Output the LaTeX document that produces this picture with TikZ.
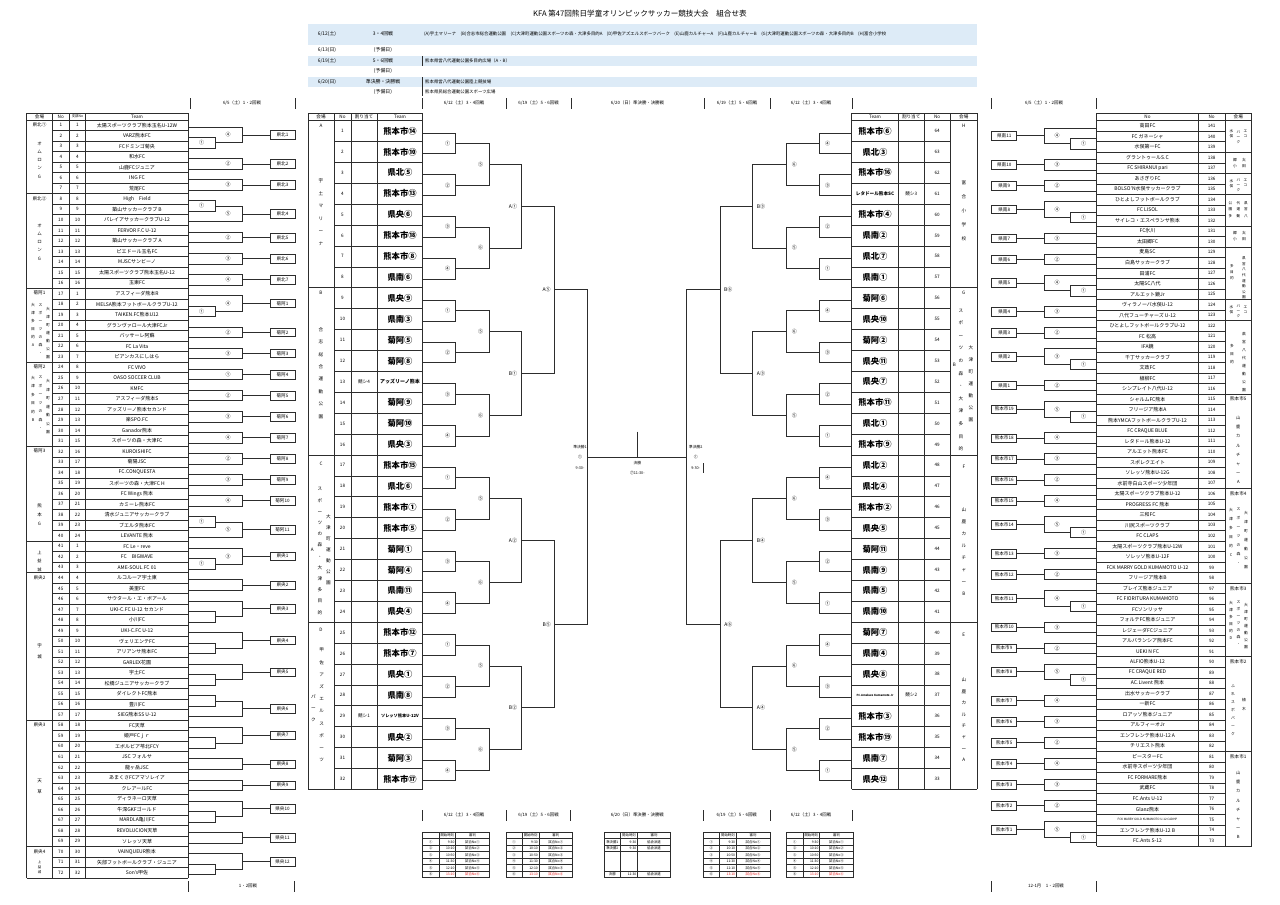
\documentclass[tikz,border=0pt]{standalone}
\usepackage{fontspec}
\setmainfont{Noto Sans CJK JP}
\definecolor{hdr}{RGB}{221,235,247}
\definecolor{ln}{RGB}{45,45,45}
\definecolor{rd}{RGB}{230,30,30}
\newcommand\LTo{119.8}
\newcommand\LHe{10.53}
\newcommand\RTo{120.7}
\newcommand\RHe{10.51}
\newcommand\MTo{120.5}
\newcommand\MHe{20.9}
% ---------- left 1-2 round brackets
\newcommand\Lpair[4]{%
  \pgfmathsetmacro\ya{\LTo+(#1-0.5)*\LHe+2}%
  \pgfmathsetmacro\yb{\LTo+(#2-0.5)*\LHe+2}%
  \pgfmathsetmacro\ym{(\ya+\yb)/2}%
  \node[wbox] (w) at (282.5,\ym) {#4};%
  \draw[br] (188.3,\ya) -- (242,\ya) -- (242,\yb) -- (188.3,\yb);%
  \draw[br] (242,\ym) -- (w.west);%
  \node[lab] at (228,\ym) {#3};%
}
\newcommand\LtriA[6]{%
  \pgfmathsetmacro\ya{\LTo+(#1-0.5)*\LHe+2}%
  \pgfmathsetmacro\yb{\LTo+(#2-0.5)*\LHe+2}%
  \pgfmathsetmacro\yc{\LTo+(#3-0.5)*\LHe+2}%
  \pgfmathsetmacro\yi{(\yb+\yc)/2}%
  \pgfmathsetmacro\ym{(\ya+\yi)/2}%
  \draw[br] (188.3,\yb) -- (215,\yb) -- (215,\yc) -- (188.3,\yc);%
  \node[lab] at (201.5,\yi) {#4};%
  \draw[br] (188.3,\ya) -- (242,\ya) -- (242,\yi) -- (215,\yi);%
  \node[wbox] (w) at (282.5,\ym) {#6};%
  \draw[br] (242,\ym) -- (w.west);%
  \node[lab] at (228,\ym) {#5};%
}
\newcommand\LtriB[6]{%
  \pgfmathsetmacro\ya{\LTo+(#1-0.5)*\LHe+2}%
  \pgfmathsetmacro\yb{\LTo+(#2-0.5)*\LHe+2}%
  \pgfmathsetmacro\yc{\LTo+(#3-0.5)*\LHe+2}%
  \pgfmathsetmacro\yi{(\ya+\yb)/2}%
  \pgfmathsetmacro\ym{(\yi+\yc)/2}%
  \draw[br] (188.3,\ya) -- (215,\ya) -- (215,\yb) -- (188.3,\yb);%
  \node[lab] at (201.5,\yi) {#4};%
  \draw[br] (215,\yi) -- (242,\yi) -- (242,\yc) -- (188.3,\yc);%
  \node[wbox] (w) at (282.5,\ym) {#6};%
  \draw[br] (242,\ym) -- (w.west);%
  \node[lab] at (228,\ym) {#5};%
}
% ---------- right 1-2 round brackets (by team No)
\newcommand\Rpair[4]{%
  \pgfmathsetmacro\ya{\RTo+(141-#1+0.5)*\RHe+2}%
  \pgfmathsetmacro\yb{\RTo+(141-#2+0.5)*\RHe+2}%
  \pgfmathsetmacro\ym{(\ya+\yb)/2}%
  \node[wbox] (w) at (1004.2,\ym) {#4};%
  \draw[br] (1096.7,\ya) -- (1044,\ya) -- (1044,\yb) -- (1096.7,\yb);%
  \draw[br] (1044,\ym) -- (w.east);%
  \node[lab] at (1057,\ym) {#3};%
}
\newcommand\RtriA[6]{%
  \pgfmathsetmacro\ya{\RTo+(141-#1+0.5)*\RHe+2}%
  \pgfmathsetmacro\yb{\RTo+(141-#2+0.5)*\RHe+2}%
  \pgfmathsetmacro\yc{\RTo+(141-#3+0.5)*\RHe+2}%
  \pgfmathsetmacro\yi{(\yb+\yc)/2}%
  \pgfmathsetmacro\ym{(\ya+\yi)/2}%
  \draw[br] (1096.7,\yb) -- (1070,\yb) -- (1070,\yc) -- (1096.7,\yc);%
  \node[lab] at (1083.5,\yi) {#4};%
  \draw[br] (1096.7,\ya) -- (1044,\ya) -- (1044,\yi) -- (1070,\yi);%
  \node[wbox] (w) at (1004.2,\ym) {#6};%
  \draw[br] (1044,\ym) -- (w.east);%
  \node[lab] at (1057,\ym) {#5};%
}
% ---------- main bracket step
\newcommand\MB[6]{%
  \pgfmathsetmacro\ya{\MTo+(#1-0.5)*\MHe+2}%
  \pgfmathsetmacro\yb{\MTo+(#2-0.5)*\MHe+2}%
  \pgfmathsetmacro\ym{(\ya+\yb)/2}%
  \draw[br] (#3,\ya) -- (#4,\ya) -- (#4,\yb) -- (#3,\yb);%
  \node[lab] at (#5,\ym) {#6};%
}
\newcommand\vtx[5]{\node[vt,font=\fontsize{#4}{#5}\selectfont] at (#1,#2) {#3};}
% ---------- bottom schedule table
\newcommand\btab[1]{%
  \foreach \k in {0,...,7} \draw[tl] (#1,{832+\k*6.5}) -- ({#1+66.6},{832+\k*6.5});
  \foreach \dx in {0,16.3,33,66.6} \draw[tl] ({#1+\dx},832) -- ({#1+\dx},877.5);
  \node[tb] at ({#1+24.6},835.3) {開始時刻};
  \node[tb] at ({#1+49.8},835.3) {審判};
  \foreach \L/\T [count=\k] in {①/9:30,②/10:10,③/10:50,④/11:30,⑤/12:10}{
    \node[tb] at ({#1+8.1},{835.3+\k*6.5}) {\L};
    \node[tb,anchor=east] at ({#1+32},{835.3+\k*6.5}) {\T};
    \node[tb] at ({#1+49.8},{835.3+\k*6.5}) {試合No\L};
  }
  \node[tb] at ({#1+8.1},874.3) {⑥};
  \node[tb,anchor=east,text=rd] at ({#1+32},874.3) {13:10};
  \node[tb,text=rd] at ({#1+49.8},874.3) {試合No⑥};
}
\begin{document}
\begin{tikzpicture}[x=1pt,y=-1pt,
  tl/.style={draw=ln,line width=0.45pt},
  br/.style={draw=ln,line width=0.8pt},
  t/.style={inner sep=0pt,font=\fontsize{4.6}{4.6}\selectfont},
  tn/.style={inner sep=0pt,font=\fontsize{5}{5}\selectfont},
  tb/.style={inner sep=0pt,font=\fontsize{3.4}{3.4}\selectfont},
  ts/.style={inner sep=0pt,font=\fontsize{3.8}{3.8}\selectfont},
  lab/.style={inner sep=0pt,font=\fontsize{5}{5}\selectfont},
  wbox/.style={draw=ln,line width=0.5pt,minimum width=25pt,minimum height=8.5pt,inner sep=0pt,font=\fontsize{4.6}{4.6}\selectfont},
  tm/.style={inner sep=0pt,font=\bfseries\fontsize{8.3}{8.3}\selectfont},
  vt/.style={inner sep=0pt,align=center},
  hd/.style={inner sep=0pt,font=\fontsize{4.9}{4.9}\selectfont},
  hv/.style={inner sep=0pt,font=\fontsize{4.4}{4.4}\selectfont},
  bar/.style={draw=ln,line width=0.6pt},
]
\useasboundingbox (0,0) rectangle (1280,905);
\fill[white] (0,0) rectangle (1280,905);

% ================= title and header =================
\node[inner sep=0pt,font=\fontsize{7.6}{7.6}\selectfont] (title) at (640,14) {KFA 第47回熊日学童オリンピックサッカー競技大会　組合せ表};
\fill[hdr] (308,23.5) rectangle (977,44.5);
\fill[hdr] (308,55.5) rectangle (977,66);
\fill[hdr] (308,76.5) rectangle (977,87);
\node[hd] at (327,34) {6/12(土)};
\node[hd] at (383,34) {3・4回戦};
\node[hv,anchor=west] at (424,34) {(A)宇土マリーナ　(B)合志市総合運動公園　(C)大津町運動公園スポーツの森・大津多目的A　(D)甲佐アズエルスポーツパーク　(E)山鹿カルチャーA　(F)山鹿カルチャーB　(G)大津町運動公園スポーツの森・大津多目的B　(H)富合小学校};
\node[hd] at (327,49.8) {6/13(日)};
\node[hd] at (383,49.8) {(予備日)};
\node[hd] at (327,60.8) {6/19(土)};
\node[hd] at (383,60.8) {5・6回戦};
\node[hv,anchor=west] at (425,60.8) {熊本県営八代運動公園多目的広場（A・B）};
\node[hd] at (383,71.2) {(予備日)};
\node[hd] at (327,81.8) {6/20(日)};
\node[hd] at (383,81.8) {準決勝・決勝戦};
\node[hv,anchor=west] at (425,81.8) {熊本県営八代運動公園陸上競技場};
\node[hd] at (383,91.8) {(予備日)};
\node[hv,anchor=west] at (425,91.8) {熊本県民総合運動公園スポーツ広場};
\draw[tl] (422.7,56) -- (422.7,65.5);
\draw[tl] (422.7,77) -- (422.7,96);

% round headers (top)
\foreach \x in {190,295,422.7,506,571,704,770,852,991.7,1096.7} \draw[bar] (\x,98) -- (\x,108.5);
\node[hv] at (242,103) {6/5（土）1・2回戦};
\node[hv] at (464,103) {6/12（土）3・4回戦};
\node[hv] at (538.5,103) {6/19（土）5・6回戦};
\node[hv] at (637.5,103) {6/20（日）準決勝・決勝戦};
\node[hv] at (737,103) {6/19（土）5・6回戦};
\node[hv] at (811,103) {6/12（土）3・4回戦};
\node[hv] at (1044,103) {6/5（土）1・2回戦};
% footers
\foreach \x in {188.3,294.3,991.7,1096.7} \draw[bar] (\x,881) -- (\x,891.5);
\node[hv] at (248,886) {1・2回戦};
\node[hv] at (1046,886) {12-1月　1・2回戦};

% ================= left 1-2 round table =================
\pgfmathsetmacro\LB{\LTo+72*\LHe}
\draw[tl] (26.7,113) -- (188.3,113);
\foreach \i in {0,...,72} \draw[tl] (52.3,{\LTo+\i*\LHe}) -- (188.3,{\LTo+\i*\LHe});
\foreach \g in {1,8,17,24,32,41,44,58,70,73} \draw[tl] (26.7,{\LTo+(\g-1)*\LHe}) -- (52.3,{\LTo+(\g-1)*\LHe});
\foreach \x in {26.7,52.3,69.3,85.7,188.3} \draw[tl] (\x,113) -- (\x,\LB);
\node[t] at (39.5,116.5) {会場};
\node[t] at (60.8,116.5) {No};
\node[inner sep=0pt,font=\fontsize{3.4}{3.4}\selectfont] at (77.5,116.5) {支部No};
\node[t] at (137,116.5) {Team};
\foreach \n [count=\i] in {太陽スポーツクラブ熊本玉名U-12W,VARZ熊本FC,FCドミンゴ菊央,和水FC,山鹿FCジュニア,ING FC,荒尾FC,High　Field,築山サッカークラブ B,パレイアサッカークラブU-12,FERVOR F.C U-12,築山サッカークラブ A,ピエドール玉名FC,MJSCサンビーノ,太陽スポーツクラブ熊本玉名U-12,玉東FC,アスフィーダ熊本R,MELSA熊本フットボールクラブU-12,TAIKEN.FC熊本U12,グランヴァロール大津FCJr,バッサーレ阿蘇,FC La Vita,ピアンカスにしはら,FC VIVO,OASO SOCCER CLUB,KMFC,アスフィーダ熊本S,アッズリーノ熊本セカンド,楽SPO.FC,Ganador熊本,スポーツの森・大津FC,KUROISHIFC,菊陽JSC,FC.CONQUESTA,スポーツの森・大津FC H,FC Wings 熊本,カミーレ熊本FC,清水ジュニアサッカークラブ,ブエルタ熊本FC,LEVANTE 熊本,FC Le・reve,FC　BIGWAVE,AME-SOUL.FC 01,ルコルーア宇土東,美里FC,サウタール・エ・ボアール,UKI-C.FC U-12 セカンド,小川FC,UKI-C.FC U-12,ヴェリエンテFC,アリアンサ熊本FC,GARLEX花園,宇土FC,松橋ジュニアサッカークラブ,ダイレクトFC熊本,豊川FC,SIEG熊本SS U-12,FC天草,姫戸FCｊｒ,エボルビア苓北FCY,JSC フォルサ,龍ヶ岳JSC,あまくさFCアマソレイア,クレアールFC,ディラネーロ天草,牛深GKFゴールド,MARDLA亀川FC,REVOLUCION天草,ソレッソ天草,VAINQUEUR熊本,矢部フットボールクラブ・ジュニア,Son's甲佐} {
  \pgfmathsetmacro\yy{\LTo+(\i-0.5)*\LHe}
  \pgfmathtruncatemacro\sn{\i<=16 ? \i : (\i<=40 ? \i-16 : \i-40)}
  \node[t] at (60.8,\yy) {\i};
  \node[t] at (77.5,\yy) {\sn};
  \node[tn] (lt\i) at (137,\yy) {\n};
}
% venue column texts (left)
\node[t] at (39.5,125.1) {県北①};
\vtx{39.5}{160}{オ\\ム\\ロ\\ン\\G}{4.5}{8.2}
\node[t] at (39.5,198.8) {県北②};
\vtx{39.5}{242}{オ\\ム\\ロ\\ン\\G}{4.5}{8.2}
\node[t] at (39.5,293.1) {菊阿1};
\vtx{48}{333}{大\\津\\町\\運\\動\\公\\園}{3.8}{8}
\vtx{40.5}{329}{ス\\ポ\\ー\\ツ\\の\\森\\・}{3.8}{8}
\vtx{33}{325}{大\\津\\多\\目\\的\\A}{3.8}{8}
\node[t] at (39.5,366.8) {菊阿2};
\vtx{48}{407}{大\\津\\町\\運\\動\\公\\園}{3.8}{8.5}
\vtx{40.5}{403}{ス\\ポ\\ー\\ツ\\の\\森\\・}{3.8}{8.5}
\vtx{33}{399}{大\\津\\多\\目\\的\\B}{3.8}{8.5}
\node[t] at (39.5,451.1) {菊阿3};
\vtx{39.5}{515}{熊\\本\\G}{4.5}{9}
\vtx{39.5}{561}{上\\益\\城}{4.2}{8.5}
\node[t] at (39.5,577.8) {県央2};
\vtx{39.5}{651}{宇\\城}{4.5}{11}
\node[t] at (39.5,725.2) {県央3};
\vtx{39.5}{786}{天\\草}{4.5}{11}
\node[t] at (39.5,851.6) {県央4};
\vtx{39.5}{867}{上\\益\\城}{3.4}{5.2}

% left 1-2 brackets
\LtriA{1}{2}{3}{①}{④}{県北1}
\Lpair{4}{5}{②}{県北2}
\Lpair{6}{7}{③}{県北3}
\LtriB{8}{9}{10}{①}{⑤}{県北4}
\Lpair{11}{12}{②}{県北5}
\Lpair{13}{14}{③}{県北6}
\Lpair{15}{16}{④}{県北7}
\LtriA{17}{18}{19}{①}{④}{菊阿1}
\Lpair{20}{21}{②}{菊阿2}
\Lpair{22}{23}{③}{菊阿3}
\Lpair{24}{25}{①}{菊阿4}
\Lpair{26}{27}{②}{菊阿5}
\Lpair{28}{29}{③}{菊阿6}
\Lpair{30}{31}{④}{菊阿7}
\Lpair{32}{33}{②}{菊阿8}
\Lpair{34}{35}{③}{菊阿9}
\Lpair{36}{37}{④}{菊阿10}
\LtriB{38}{39}{40}{①}{⑤}{菊阿11}
\LtriA{41}{42}{43}{①}{③}{県央1}
\Lpair{44}{45}{}{県央2}
\LtriA{46}{47}{48}{}{}{県央3}
\LtriA{49}{50}{51}{}{}{県央4}
\LtriA{52}{53}{54}{}{}{県央5}
\LtriB{55}{56}{57}{}{}{県央6}
\LtriA{58}{59}{60}{}{}{県央7}
\Lpair{61}{62}{}{県央8}
\Lpair{63}{64}{}{県央9}
\LtriA{65}{66}{67}{}{}{県央10}
\Lpair{68}{69}{}{県央11}
\LtriA{70}{71}{72}{}{}{県央12}

% ================= right 1-2 round table =================
\pgfmathsetmacro\RB{\RTo+69*\RHe}
\draw[tl] (1096.7,113) -- (1251.7,113);
\foreach \i in {0,...,69} \draw[tl] (1096.7,{\RTo+\i*\RHe}) -- (1225,{\RTo+\i*\RHe});
\foreach \g in {0,3,5,7,10,12,17,19,26,35,44,51,60,69} \draw[tl] (1225,{\RTo+\g*\RHe}) -- (1251.7,{\RTo+\g*\RHe});
\foreach \x in {1096.7,1198.3,1225,1251.7} \draw[tl] (\x,113) -- (\x,\RB);
\node[t] at (1147.5,116.8) {No};
\node[t] at (1211.7,116.8) {No};
\node[t] at (1238.3,116.8) {会場};
\foreach \n [count=\j from 0] in {高田FC,FC ガネーシャ,水俣第一FC,グラントゥールS.C,FC SHIRANUI pari,あさぎりFC,BOLSO'N水俣サッカークラブ,ひとよしフットボールクラブ,FC LISOL,サイレコ・エスペランサ熊本,FC氷川,太田郷FC,麦島SC,白島サッカークラブ,田浦FC,太陽SC八代,アルエット鏡Jr,ヴィラノーバ水俣U-12,八代フューチャーズ U-12,ひとよしフットボールクラブU-12,FC 松高,IFA鏡,千丁サッカークラブ,文政FC,植柳FC,シンプレイト八代U-12,シャルムFC熊本,フリージア熊本A,熊本YMCAフットボールクラブU-12,FC CRAQUE BLUE,レタドール熊本U-12,アルエット熊本FC,スポレクエイト,ソレッソ熊本U-12G,水前寺白山スポーツ少年団,太陽スポーツクラブ熊本U-12,PROGRESS FC 熊本,三和FC,川尻スポーツクラブ,FC CLAPS,太陽スポーツクラブ熊本U-12W,ソレッソ熊本U-12F,FCK MARRY GOLD KUMAMOTO U-12,フリージア熊本B,ブレイズ熊本ジュニア,FC FIORITURA KUMAMOTO,FCソンリッサ,フォルテFC熊本ジュニア,レジェーダFCジュニア,アルバランシア熊本FC,UEKI N FC,ALFIO熊本U-12,FC CRAQUE RED,AC.Livent 熊本,出水サッカークラブ,一新FC,ロアッソ熊本ジュニア,アルフィーオJr,エンフレンテ熊本U-12 A,チリエスト熊本,ピースターFC,水前寺スポーツ少年団,FC FORMARE熊本,武蔵FC,FC.Ants U-12,Glanz熊本,{\fontsize{3}{3}\selectfont FCK MARRY GOLD KUMAMOTO U-12 CADHP},エンフレンテ熊本U-12 B,FC.Ants S-12} {
  \pgfmathsetmacro\yy{\RTo+(\j+0.5)*\RHe}
  \pgfmathtruncatemacro\no{141-\j}
  \node[t] at (1211.7,\yy) {\no};
  \node[tn] (rt\no) at (1147.5,\yy) {\n};
}
% venue texts (right)
\vtx{1231.5}{134}{水\\俣}{3.6}{5}
\vtx{1238.5}{137}{パ\\ー\\ク}{3.6}{5}
\vtx{1245.5}{134}{エ\\コ}{3.6}{5}
\vtx{1244}{162.7}{太\\田}{3.8}{6}
\vtx{1235}{162.7}{郷\\小}{3.8}{6}
\vtx{1231.5}{183.2}{水\\俣}{3.6}{5}
\vtx{1238.5}{184.7}{パ\\ー\\ク}{3.6}{5}
\vtx{1245.5}{183.2}{エ\\コ}{3.6}{5}
\vtx{1246}{209.5}{県\\営\\八}{3.6}{6.5}
\vtx{1238.3}{209.5}{代\\運\\動}{3.6}{6.5}
\vtx{1230.5}{209.5}{公\\園\\多}{3.6}{6.5}
\vtx{1244}{236.5}{太\\田}{3.8}{6}
\vtx{1235}{236.5}{郷\\小}{3.8}{6}
\vtx{1244}{278}{県\\営\\八\\代\\運\\動\\公\\園}{3.6}{5.6}
\vtx{1232}{272}{多\\目\\的}{3.6}{5.6}
\vtx{1231.5}{309.5}{水\\俣}{3.6}{5}
\vtx{1238.5}{311}{パ\\ー\\ク}{3.6}{5}
\vtx{1245.5}{309.5}{エ\\コ}{3.6}{5}
\vtx{1244}{362}{県\\営\\八\\代\\運\\動\\公\\園}{3.8}{8}
\vtx{1232}{354}{多\\目\\的}{3.8}{8}
\node[t] at (1238.3,399.2) {熊本市5};
\vtx{1238.3}{450}{山\\鹿\\カ\\ル\\チ\\ャ\\ー\\A}{4.2}{9.2}
\node[t] at (1238.3,493.8) {熊本市4};
\vtx{1246}{540}{大\\津\\町\\運\\動\\公\\園}{3.8}{9}
\vtx{1238.5}{536}{ス\\ポ\\ー\\ツ\\の\\森\\・}{3.8}{9}
\vtx{1231}{532}{大\\津\\多\\目\\的\\C}{3.8}{9}
\node[t] at (1238.3,588.4) {熊本市3};
\vtx{1246}{626}{大\\津\\町\\運\\動\\公\\園}{3.8}{7}
\vtx{1238.5}{623}{ス\\ポ\\ー\\ツ\\の\\森\\・}{3.8}{7}
\vtx{1231}{620}{大\\津\\多\\目\\的\\D}{3.8}{7}
\node[t] at (1238.3,662) {熊本市2};
\vtx{1244}{705}{植\\木}{3.8}{9}
\vtx{1233}{710}{ふ\\れ\\ス\\ポ\\パ\\ー\\ク}{3.8}{8}
\node[t] at (1238.3,756.6) {熊本市1};
\vtx{1238.3}{805}{山\\鹿\\カ\\ル\\チ\\ャ\\ー\\B}{4.2}{9.2}

% right 1-2 brackets
\RtriA{141}{140}{139}{①}{④}{県南11}
\Rpair{138}{137}{③}{県南10}
\Rpair{136}{135}{②}{県南9}
\RtriA{134}{133}{132}{①}{④}{県南8}
\Rpair{131}{130}{③}{県南7}
\Rpair{129}{128}{②}{県南6}
\RtriA{127}{126}{125}{①}{④}{県南5}
\Rpair{124}{123}{③}{県南4}
\Rpair{122}{121}{②}{県南3}
\RtriA{120}{119}{118}{①}{③}{県南2}
\Rpair{117}{116}{②}{県南1}
\RtriA{115}{114}{113}{①}{⑤}{熊本市19}
\Rpair{112}{111}{④}{熊本市18}
\Rpair{110}{109}{③}{熊本市17}
\Rpair{108}{107}{②}{熊本市16}
\Rpair{106}{105}{④}{熊本市15}
\RtriA{104}{103}{102}{①}{⑤}{熊本市14}
\Rpair{101}{100}{③}{熊本市13}
\Rpair{99}{98}{②}{熊本市12}
\RtriA{97}{96}{95}{①}{④}{熊本市11}
\Rpair{94}{93}{③}{熊本市10}
\Rpair{92}{91}{②}{熊本市9}
\RtriA{90}{89}{88}{①}{⑤}{熊本市8}
\Rpair{87}{86}{④}{熊本市7}
\Rpair{85}{84}{③}{熊本市6}
\Rpair{83}{82}{②}{熊本市5}
\Rpair{81}{80}{④}{熊本市4}
\Rpair{79}{78}{③}{熊本市3}
\Rpair{77}{76}{②}{熊本市2}
\RtriA{75}{74}{73}{①}{⑤}{熊本市1}

% ================= center tables =================
\pgfmathsetmacro\MBot{\MTo+32*\MHe}
% left
\draw[tl] (308,113) -- (422.7,113);
\foreach \i in {0,...,32} \draw[tl] (334,{\MTo+\i*\MHe}) -- (422.7,{\MTo+\i*\MHe});
\foreach \i in {0,8,16,24,32} \draw[tl] (308,{\MTo+\i*\MHe}) -- (334,{\MTo+\i*\MHe});
\foreach \x in {308,334,351,377,422.7} \draw[tl] (\x,113) -- (\x,\MBot);
\node[t] at (321,116.8) {会場};
\node[t] at (342.5,116.8) {No};
\node[t] at (364,116.8) {割り当て};
\node[t] at (400,116.8) {Team};
\foreach \n [count=\i] in {熊本市⑭,熊本市⑩,県北⑤,熊本市⑬,県央⑥,熊本市⑱,熊本市⑧,県南⑥,県央⑨,県南③,菊阿⑤,菊阿⑧,{\fontsize{5}{5}\selectfont アッズリーノ熊本},菊阿⑨,菊阿⑩,県央③,熊本市⑮,県北⑥,熊本市①,熊本市⑤,菊阿①,菊阿④,県南⑪,県央④,熊本市⑫,熊本市⑦,県央①,県南⑧,{\fontsize{4.2}{4.2}\selectfont ソレッソ熊本U-12V},県央②,菊阿③,熊本市⑰} {
  \pgfmathsetmacro\yy{\MTo+(\i-0.5)*\MHe}
  \node[t] at (342.5,\yy) {\i};
  \node[tm] (ml\i) at (400,\yy) {\n};
}
\node[t] at (364,{\MTo+12.5*\MHe}) {競シ4};
\node[t] at (364,{\MTo+28.5*\MHe}) {競シ1};
\node[t] at (321,125.5) {A};
\vtx{321}{212}{宇\\土\\マ\\リ\\ー\\ナ}{4.6}{12.5}
\node[t] at (321,292.7) {B};
\vtx{321}{373}{合\\志\\総\\合\\運\\動\\公\\園}{4.6}{12.4}
\node[t] at (321,464) {C};
\vtx{320}{551}{ス\\ポ\\ー\\ツ\\の\\森\\・\\大\\津\\多\\目\\的}{4.6}{11.2}
\vtx{328.5}{550}{大\\津\\町\\運\\動\\公\\園}{4.6}{11}
\node[t] at (312.3,550) {A};
\node[t] at (321,630) {D};
\vtx{321.7}{705}{甲\\佐\\ア\\ズ\\エ\\ル\\ス\\ポ\\ー\\ツ}{4.6}{12.2}
\vtx{313.3}{708}{パ\\ー\\ク}{4.6}{11.5}
% right
\draw[tl] (851.7,113) -- (977.3,113);
\foreach \i in {0,...,32} \draw[tl] (851.7,{\MTo+\i*\MHe}) -- (950.3,{\MTo+\i*\MHe});
\foreach \i in {0,8,16,24,32} \draw[tl] (950.3,{\MTo+\i*\MHe}) -- (977.3,{\MTo+\i*\MHe});
\foreach \x in {851.7,898.3,924,950.3,977.3} \draw[tl] (\x,113) -- (\x,\MBot);
\node[t] at (875,116.8) {Team};
\node[t] at (911.2,116.8) {割り当て};
\node[t] at (937.2,116.8) {No};
\node[t] at (963.8,116.8) {会場};
\foreach \n [count=\r] in {熊本市⑥,県北③,熊本市⑯,{\fontsize{4.6}{4.6}\selectfont レタドール熊本SC},熊本市④,県南②,県北⑦,県南①,菊阿⑥,県央⑩,菊阿②,県央⑪,県央⑦,熊本市⑪,県北①,熊本市⑨,県北②,県北④,熊本市②,県央⑤,菊阿⑪,県南⑨,県南⑤,県南⑩,菊阿⑦,県南④,県央⑧,{\fontsize{2.8}{2.8}\selectfont FC.Amaluzo Kumamoto Jr},熊本市③,熊本市⑲,県南⑦,県央⑫} {
  \pgfmathsetmacro\yy{\MTo+(\r-0.5)*\MHe}
  \pgfmathtruncatemacro\no{65-\r}
  \node[t] at (937.2,\yy) {\no};
  \node[tm] (mr\no) at (875,\yy) {\n};
}
\node[t] at (911.2,{\MTo+3.5*\MHe}) {競シ3};
\node[t] at (911.2,{\MTo+27.5*\MHe}) {競シ2};
\node[t] at (963.8,125.5) {H};
\vtx{963.8}{211}{富\\合\\小\\学\\校}{4.6}{14}
\node[t] at (963.8,292.7) {G};
\vtx{961}{380}{ス\\ポ\\ー\\ツ\\の\\森\\・\\大\\津\\多\\目\\的}{4.6}{12.6}
\vtx{971}{383.5}{大\\津\\町\\運\\動\\公\\園}{4.6}{12}
\node[t] at (954.5,365) {B};
\node[t] at (963.8,466.7) {F};
\vtx{963.8}{551.5}{山\\鹿\\カ\\ル\\チ\\ャ\\ー\\B}{4.6}{11.9}
\node[t] at (963.8,635) {E};
\vtx{963.8}{720}{山\\鹿\\カ\\ル\\チ\\ャ\\ー\\A}{4.6}{11.4}

% ================= main bracket =================
\foreach \k/\L in {1/①,2/②,3/③,4/④,5/①,6/②,7/③,8/④,9/①,10/②,11/③,12/④,13/①,14/②,15/③,16/④}
  {\MB{2*\k-1}{2*\k}{422.7}{455.7}{447.7}{\L}}
\foreach \k/\L in {1/⑤,2/⑥,3/⑤,4/⑥,5/⑤,6/⑥,7/⑤,8/⑥}
  {\MB{4*\k-2.5}{4*\k-0.5}{455.7}{489}{480.7}{\L}}
\foreach \k/\L in {1/A①,2/B①,3/A②,4/B②}
  {\MB{8*\k-5.5}{8*\k-1.5}{489}{521.7}{513}{\L}}
\foreach \k/\L in {1/A⑤,2/B⑤}
  {\MB{16*\k-11.5}{16*\k-3.5}{521.7}{554.7}{546.7}{\L}}
\MB{8.5}{24.5}{554.7}{587.7}{580}{}
\foreach \k/\L in {1/④,2/③,3/②,4/①,5/④,6/③,7/②,8/①,9/④,10/③,11/②,12/①,13/④,14/③,15/②,16/①}
  {\MB{2*\k-1}{2*\k}{851.7}{819}{827.7}{\L}}
\foreach \k/\L in {1/⑥,2/⑤,3/⑥,4/⑤,5/⑥,6/⑤,7/⑥,8/⑤}
  {\MB{4*\k-2.5}{4*\k-0.5}{819}{786}{794.3}{\L}}
\foreach \k/\L in {1/B③,2/A③,3/B④,4/A④}
  {\MB{8*\k-5.5}{8*\k-1.5}{786}{752.7}{761}{\L}}
\foreach \k/\L in {1/B⑥,2/A⑥}
  {\MB{16*\k-11.5}{16*\k-3.5}{752.7}{720}{728.3}{\L}}
\MB{8.5}{24.5}{720}{686.7}{695}{}
\pgfmathsetmacro\yf{\MTo+16*\MHe+2}
\coordinate (sfL) at (587.7,\yf);
\coordinate (sfR) at (686.7,\yf);
\coordinate (fin) at (637.3,\yf);
\coordinate (fint) at (637.3,431.7);
\draw[br] (sfL) -- (sfR);
\draw[br] (fint) -- (fin);
\node[ts] at (580,446.7) {準決勝1};
\node[ts] at (580,457.3) {①};
\node[ts] at (580,467.7) {9:30-};
\node[ts] at (695.7,446.7) {準決勝2};
\node[ts] at (695.7,457.3) {①};
\node[ts] at (695.7,467.7) {9:30-};
\draw[bar] (703.3,463) -- (703.3,473);
\node[ts] at (637.3,463.3) {決勝};
\node[ts] at (637.3,473.3) {⑦11:30-};

% ================= bottom schedule =================
\foreach \x in {422.7,506,570.7,703.3,770,852} \draw[bar] (\x,810) -- (\x,820.5);
\node[hv] at (464,815) {6/12（土）3・4回戦};
\node[hv] at (538.5,815) {6/19（土）5・6回戦};
\node[hv] at (637.3,815) {6/20（日）準決勝・決勝戦};
\node[hv] at (736.7,815) {6/19（土）5・6回戦};
\node[hv] at (811,815) {6/12（土）3・4回戦};
\btab{422.7}
\btab{506}
\btab{703.3}
\btab{786.7}
% final day table
\foreach \yy in {832,838.5,845,851.5,871,877.5} \draw[tl] (604,\yy) -- (670.6,\yy);
\foreach \dx in {0,16.7,33.3,66.6} \draw[tl] ({604+\dx},832) -- ({604+\dx},877.5);
\node[tb] at (629,835.3) {開始時刻};
\node[tb] at (654,835.3) {審判};
\node[tb] at (612.3,841.8) {準決勝1};
\node[tb,anchor=east] at (636.5,841.8) {9:30};
\node[tb] at (654,841.8) {協会派遣};
\node[tb] at (612.3,848.3) {準決勝2};
\node[tb,anchor=east] at (636.5,848.3) {9:30};
\node[tb] at (654,848.3) {協会派遣};
\node[tb] at (612.3,874.3) {決勝};
\node[tb,anchor=east] at (636.5,874.3) {11:30};
\node[tb] at (654,874.3) {協会派遣};
\end{tikzpicture}
\end{document}
